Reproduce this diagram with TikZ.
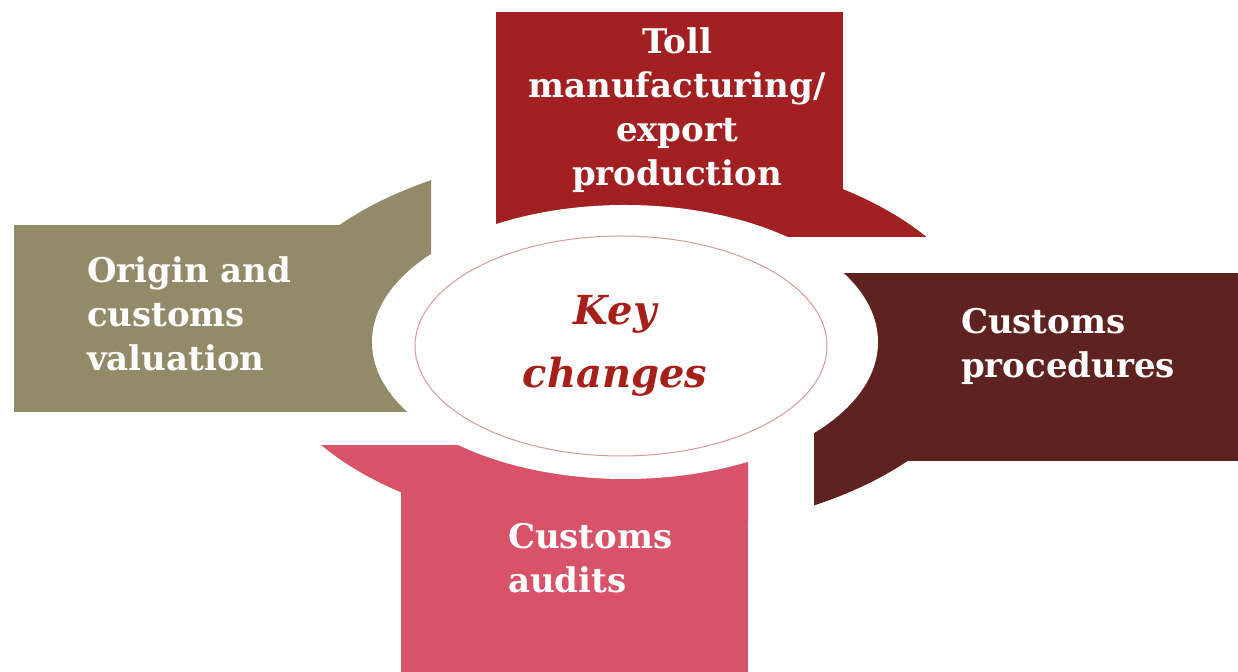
\documentclass[tikz,border=0pt]{standalone}
\usepackage{fontspec}
\setmainfont{DejaVu Serif}
\usetikzlibrary{calc, shapes.geometric}
\definecolor{tollred}{RGB}{162,31,34}
\definecolor{procbrown}{RGB}{94,35,32}
\definecolor{auditpink}{RGB}{216,82,106}
\definecolor{origolive}{RGB}{146,138,105}
\definecolor{keyred}{RGB}{166,32,25}
\newcommand{\outerring}{(625,342) ellipse [x radius=360, y radius=192]}
\newcommand{\innerhole}{(625,342) ellipse [x radius=253, y radius=137]}

\begin{document}
\begin{tikzpicture}[x=0.5pt, y=-0.5pt,
    catlabel/.style={text=white, font=\bfseries\fontsize{17}{22}\selectfont,
                  inner sep=0pt, outer sep=0pt},
    keytext/.style={text=keyred, font=\bfseries\itshape\fontsize{20}{31.5}\selectfont,
                    align=center, inner sep=0pt}]
\useasboundingbox (0,0) rectangle (1238,672);

% toll manufacturing
\begin{scope}
  \clip (496,0) rectangle (1238,237);
  \fill[tollred] \outerring;
\end{scope}
\fill[tollred] (496,12) rectangle (843,237);

% customs procedures
\begin{scope}
  \clip (814,276) rectangle (1238,672);
  \fill[procbrown] \outerring;
\end{scope}
\fill[procbrown] (814,273) rectangle (1238,461);

% customs audits
\begin{scope}
  \clip (0,446) rectangle (748,672);
  \fill[auditpink] \outerring;
\end{scope}
\fill[auditpink] (401,446) rectangle (748,672);

% origin and valuation
\begin{scope}
  \clip (0,0) rectangle (431,412);
  \fill[origolive] \outerring;
\end{scope}
\fill[origolive] (14,225) rectangle (431,412);

\fill[white] \innerhole;
\node[draw=keyred!45, line width=0.5pt, ellipse, minimum width=206pt, minimum height=110pt,
      inner sep=0pt] (key) at (621,346) {};
\node[keytext, anchor=base] (keylbl) at (615,388) {Key\\changes};

% base anchor sits on the last line
\node[catlabel, align=center, anchor=base] (toll) at (677,186)
  {Toll\\manufacturing/\\export\\production};
\node[catlabel, align=left, anchor=base west] (proc) at (961,378)
  {Customs\\procedures};
\node[catlabel, align=left, anchor=base west] (audit) at (508,593)
  {Customs\\audits};
\node[catlabel, align=left, anchor=base west] (orig) at (87,371)
  {Origin and\\customs\\valuation};
\end{tikzpicture}
\end{document}
